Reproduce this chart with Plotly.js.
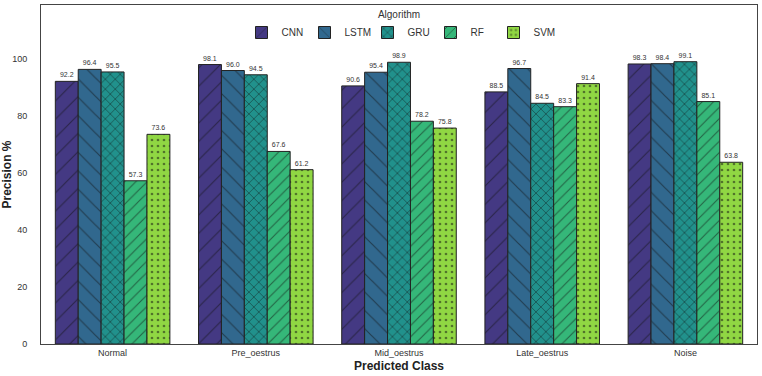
<!DOCTYPE html>
<html>
<head>
<meta charset="utf-8">
<script src="https://cdn.plot.ly/plotly-3.0.1.min.js"></script>
<style>
  html, body { margin: 0; padding: 0; background: #ffffff; }
  #chart { width: 762px; height: 376px; }
</style>
</head>
<body>
<div id="chart"></div>
<script>
// Predicted classes on the x axis
const classes = ["Normal", "Pre_oestrus", "Mid_oestrus", "Late_oestrus", "Noise"];

// Precision (%) per algorithm, one value per class
const algorithms = ["CNN", "LSTM", "GRU", "RF", "SVM"];
const cnn  = [92.2, 98.1, 90.6, 88.5, 98.3];
const lstm = [96.4, 96.0, 95.4, 96.7, 98.4];
const gru  = [95.5, 94.5, 98.9, 84.5, 99.1];
const rf   = [57.3, 67.6, 78.2, 83.3, 85.1];
const svm  = [73.6, 61.2, 75.8, 91.4, 63.8];

const seriesValues = [cnn, lstm, gru, rf, svm];
const colors = ["#443983", "#31688e", "#21918c", "#35b779", "#90d743"];
const patterns = [
  { shape: "/",  size: 13, solidity: 0.09 },
  { shape: "\\", size: 13, solidity: 0.09 },
  { shape: "x",  size: 7,  solidity: 0.22 },
  { shape: "/",  size: 8,  solidity: 0.14 },
  { shape: ".",  size: 6,  solidity: 0.16 }
];

const traces = algorithms.map((name, i) => ({
  type: "bar",
  name: name,
  x: classes,
  y: seriesValues[i],
  text: seriesValues[i].map(v => v.toFixed(1)),
  textposition: "outside",
  constraintext: "none",
  cliponaxis: false,
  outsidetextfont: { family: "Liberation Sans, Arial, sans-serif", size: 7, color: "#333333" },
  marker: {
    color: colors[i],
    line: { color: "#222222", width: 1 },
    pattern: {
      shape: patterns[i].shape,
      size: patterns[i].size,
      solidity: patterns[i].solidity,
      fgcolor: "#111111",
      bgcolor: colors[i],
      fillmode: "overlay"
    }
  },
  hoverinfo: "skip"
}));

const layout = {
  width: 762,
  height: 376,
  margin: { l: 41, r: 5, t: 5, b: 32 },
  paper_bgcolor: "#ffffff",
  plot_bgcolor: "#ffffff",
  font: { family: "Liberation Sans, Arial, sans-serif", size: 10, color: "#333333" },
  barmode: "group",
  bargap: 0.2,
  bargroupgap: 0,
  showlegend: true,
  legend: {
    orientation: "h",
    x: 0.5,
    xanchor: "center",
    y: 1.0,
    yanchor: "top",
    bgcolor: "rgba(0,0,0,0)",
    font: { size: 10, color: "#333333" },
    title: { text: "Algorithm", side: "top center", font: { size: 10, color: "#333333" } },
    entrywidth: 18,
    itemwidth: 30,
    tracegroupgap: 0,
    traceorder: "normal"
  },
  xaxis: {
    type: "category",
    showline: true,
    mirror: true,
    linecolor: "#444444",
    linewidth: 1,
    showgrid: false,
    ticks: "",
    tickfont: { size: 9, color: "#333333" },
    title: { text: "Predicted Class", font: { size: 12, color: "#222222", weight: "bold" }, standoff: 4 }
  },
  yaxis: {
    range: [0, 119],
    tickvals: [0, 20, 40, 60, 80, 100],
    showline: true,
    mirror: true,
    linecolor: "#444444",
    linewidth: 1,
    showgrid: false,
    zeroline: false,
    ticks: "",
    ticklabelstandoff: 11,
    tickfont: { size: 9, color: "#333333" },
    title: { text: "Precision %", font: { size: 12, color: "#222222", weight: "bold" }, standoff: 6 }
  }
};

Plotly.newPlot("chart", traces, layout, { staticPlot: true, displayModeBar: false });
</script>
</body>
</html>
